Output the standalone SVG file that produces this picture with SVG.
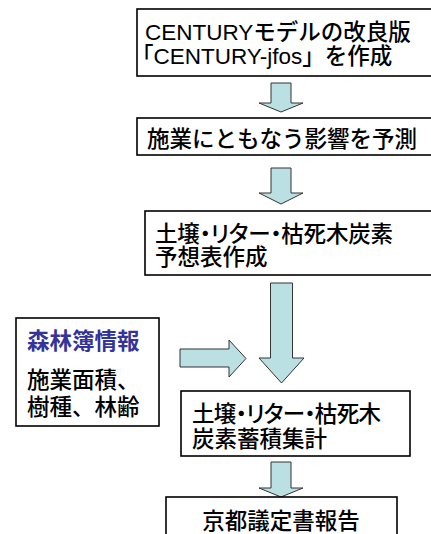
<svg xmlns="http://www.w3.org/2000/svg" width="431" height="534" viewBox="0 0 431 534">
<style>
.box{fill:#fff;stroke:#000;stroke-width:1.6}
.t{font-family:"Liberation Sans","Noto Sans CJK JP",sans-serif;font-size:22.5px;font-weight:500;fill:#000}
.blue{font-family:"Noto Sans CJK JP",sans-serif;font-weight:bold;fill:#333399;font-size:22.5px}
.arr{fill:#BBE0E3;stroke:#333;stroke-width:1}
.palt{font-feature-settings:"palt"}
</style>
<rect width="431" height="534" fill="#fff"/>
<g id="connectors">
<path class="arr" d="M271,83 H291 V103 H303 L281,112 L259,103 H271 Z"/>
<path class="arr" d="M271,168 H291 V193 H303 L281,204 L259,193 H271 Z"/>
<path class="arr" d="M270.5,283 H292.5 V358 H304 L281.5,383 L259,358 H270.5 Z"/>
<path class="arr" d="M180,349 H229 V340 L246,358.5 L229,377 V367 H180 Z"/>
<path class="arr" d="M271,462 H291 V488 H303 L281,497 L259,488 H271 Z"/>
</g>
<g id="n1">
<rect class="box" x="137" y="9" width="310" height="67"/>
<text class="t" x="145" y="40">CENTURYモデルの改良版</text>
<text class="t" x="131" y="64">「CENTURY-jfos」を作成</text>
</g>
<g id="n2">
<rect class="box" x="137" y="118" width="310" height="37"/>
<text class="t" x="147" y="147">施業にともなう影響を予測</text>
</g>
<g id="n3">
<rect class="box" x="145" y="211" width="300" height="64"/>
<text class="t palt" x="155" y="242" textLength="238" lengthAdjust="spacing">土壌・リター・枯死木炭素</text>
<text class="t" x="155" y="265">予想表作成</text>
</g>
<g id="n4">
<rect class="box" x="16" y="318" width="143" height="108"/>
<text class="blue" x="27" y="349">森林簿情報</text>
<text class="t" x="27" y="388">施業面積、</text>
<text class="t" x="27" y="415">樹種、林齢</text>
</g>
<g id="n5">
<rect class="box" x="181" y="391" width="229" height="65"/>
<text class="t palt" x="192" y="422" textLength="189" lengthAdjust="spacing">土壌・リター・枯死木</text>
<text class="t" x="192" y="447">炭素蓄積集計</text>
</g>
<g id="n6">
<rect class="box" x="166" y="497" width="231" height="50"/>
<text class="t" x="281" y="529" text-anchor="middle">京都議定書報告</text>
</g>
</svg>
